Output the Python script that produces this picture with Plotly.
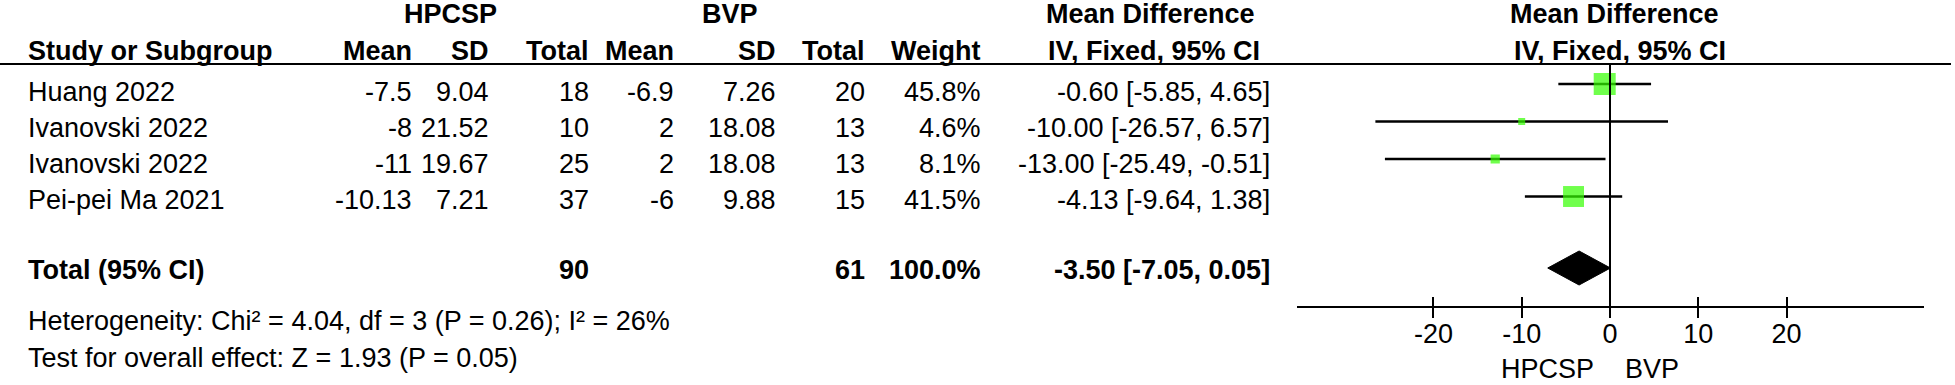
import plotly.graph_objects as go
import math

# ---------------- data ----------------
studies = ["Huang 2022", "Ivanovski 2022", "Ivanovski 2022", "Pei-pei Ma 2021"]
hp_mean = [-7.5, -8, -11, -10.13]
hp_sd = [9.04, 21.52, 19.67, 7.21]
hp_n = [18, 10, 25, 37]
bv_mean = [-6.9, 2, 2, -6]
bv_sd = [7.26, 18.08, 18.08, 9.88]
bv_n = [20, 13, 13, 15]
weights = [45.8, 4.6, 8.1, 41.5]
md = [-0.60, -10.00, -13.00, -4.13]
ci_lo = [-5.85, -26.57, -25.49, -9.64]
ci_hi = [4.65, 6.57, -0.51, 1.38]

total_label = "Total (95% CI)"
total_hp_n = 90
total_bv_n = 61
total_weight = 100.0
total_md = -3.50
total_lo = -7.05
total_hi = 0.05

het_text = "Heterogeneity: Chi² = 4.04, df = 3 (P = 0.26); I² = 26%"
test_text = "Test for overall effect: Z = 1.93 (P = 0.05)"

tick_vals = [-20, -10, 0, 10, 20]
tick_text = ["-20", "-10", "0", "10", "20"]
favours_left = "HPCSP"
favours_right = "BVP"

# ---------------- layout helpers ----------------
W, H = 1955, 385
FONT = "Liberation Sans, Arial, Helvetica, sans-serif"
FS = 27

def px(x):
    return x / W

row_text_y = [92 + i * 36 for i in range(len(studies))]
row_mark_y = [84 + i * 37.5 for i in range(len(studies))]
total_text_y = 270
total_mark_y = 268
het_y = 321
test_y = 358
axis_y = 307
header1_y = 14
header2_y = 51
rule_y = 64

annotations = []

def txt(s, x, y, anchor="right", bold=False):
    annotations.append(dict(
        text=f"<b>{s}</b>" if bold else s,
        x=px(x), xref="paper", y=y, yref="y",
        xanchor=anchor, yanchor="middle", showarrow=False,
        font=dict(family=FONT, size=FS, color="black"),
    ))

# column right edges
C_HPM, C_HPSD, C_HPN = 414, 491, 591
C_BVM, C_BVSD, C_BVN = 676, 778, 867
C_W, C_CI = 983, 1272
C_CIC = 1150
PLOT_C = 1614
LEFT = 26

# headers
txt("HPCSP", 450, header1_y, "center", True)
txt("BVP", 730, header1_y, "center", True)
txt("Mean Difference", C_CIC, header1_y, "center", True)
txt("Mean Difference", PLOT_C, header1_y, "center", True)
txt("Study or Subgroup", LEFT, header2_y, "left", True)
txt("Mean", C_HPM, header2_y, "right", True)
txt("SD", C_HPSD, header2_y, "right", True)
txt("Total", C_HPN, header2_y, "right", True)
txt("Mean", C_BVM, header2_y, "right", True)
txt("SD", C_BVSD, header2_y, "right", True)
txt("Total", C_BVN, header2_y, "right", True)
txt("Weight", C_W, header2_y, "right", True)
txt("IV, Fixed, 95% CI", C_CIC + 4, header2_y, "center", True)
txt("IV, Fixed, 95% CI", PLOT_C + 6, header2_y, "center", True)

# study rows
for i, s in enumerate(studies):
    y = row_text_y[i]
    txt(s, LEFT, y, "left")
    txt(f"{hp_mean[i]:g}", C_HPM, y)
    txt(f"{hp_sd[i]:g}", C_HPSD, y)
    txt(f"{hp_n[i]}", C_HPN, y)
    txt(f"{bv_mean[i]:g}", C_BVM, y)
    txt(f"{bv_sd[i]:g}", C_BVSD, y)
    txt(f"{bv_n[i]}", C_BVN, y)
    txt(f"{weights[i]:.1f}%", C_W, y)
    txt(f"{md[i]:.2f} [{ci_lo[i]:.2f}, {ci_hi[i]:.2f}]", C_CI, y)

# total row
txt(total_label, LEFT, total_text_y, "left", True)
txt(f"{total_hp_n}", C_HPN, total_text_y, "right", True)
txt(f"{total_bv_n}", C_BVN, total_text_y, "right", True)
txt(f"{total_weight:.1f}%", C_W, total_text_y, "right", True)
txt(f"{total_md:.2f} [{total_lo:.2f}, {total_hi:.2f}]", C_CI, total_text_y, "right", True)

txt(het_text, LEFT, het_y, "left")
txt(test_text, LEFT, test_y, "left")

# favours labels
txt(favours_left, 1596, 369, "right")
txt(favours_right, 1623, 369, "left")

# ---------------- figure ----------------
fig = go.Figure()

sizes = [3.25 * math.sqrt(w) for w in weights]
fig.add_trace(go.Scatter(
    x=md, y=row_mark_y, mode="markers",
    marker=dict(symbol="square", size=sizes, color="#33ff00", line=dict(width=0)),
    error_x=dict(type="data", symmetric=False,
                 array=[h - m for h, m in zip(ci_hi, md)],
                 arrayminus=[m - l for m, l in zip(md, ci_lo)],
                 width=0, thickness=2.5, color="black"),
    showlegend=False, hoverinfo="skip",
))

# pooled diamond
fig.add_trace(go.Scatter(
    x=[total_lo, total_md, total_hi, total_md, total_lo],
    y=[total_mark_y, total_mark_y - 17, total_mark_y, total_mark_y + 17, total_mark_y],
    mode="lines", fill="toself", fillcolor="black",
    line=dict(color="black", width=1),
    showlegend=False, hoverinfo="skip",
))

x0px, x1px = 1296.5, 1923.5
zero_px = 1610
ppu = 8.83
rng = [(x0px - zero_px) / ppu, (x1px - zero_px) / ppu]

shapes = [
    dict(type="line", xref="paper", yref="y", x0=0, x1=px(1951),
         y0=rule_y, y1=rule_y, line=dict(color="black", width=2)),
    dict(type="line", xref="x", yref="y", x0=0, x1=0,
         y0=rule_y, y1=axis_y, line=dict(color="black", width=2)),
]

fig.update_layout(
    width=W, height=H,
    margin=dict(l=0, r=0, t=0, b=0, autoexpand=False),
    paper_bgcolor="white", plot_bgcolor="rgba(0,0,0,0)",
    font=dict(family=FONT, size=FS, color="black"),
    xaxis=dict(
        domain=[px(x0px), px(x1px)], range=rng,
        anchor="free", position=1 - axis_y / H,
        showline=True, linecolor="black", linewidth=2,
        ticks="outside", ticklen=10, tickwidth=2, tickcolor="black",
        tickvals=tick_vals, ticktext=tick_text,
        tickfont=dict(family=FONT, size=FS, color="black"),
        ticklabelstandoff=-7,
        showgrid=False, zeroline=False, fixedrange=True,
    ),
    xaxis2=dict(
        domain=[px(x0px), px(x1px)], range=rng, overlaying="x",
        anchor="free", position=1 - axis_y / H,
        showline=False, ticks="inside", ticklen=10, tickwidth=2, tickcolor="black",
        tickvals=tick_vals, showticklabels=False,
        showgrid=False, zeroline=False, fixedrange=True,
    ),
    yaxis=dict(domain=[0, 1], range=[H, 0], visible=False, fixedrange=True),
    shapes=shapes,
    annotations=annotations,
)

# invisible trace so the overlaid tick axis is drawn
fig.add_trace(go.Scatter(x=[0], y=[-100], xaxis="x2", mode="markers",
                         marker=dict(opacity=0), showlegend=False, hoverinfo="skip"))

fig.write_html(
    "out.html",
    config={"displayModeBar": False, "staticPlot": True},
    post_script="document.body.style.margin='0px';document.body.style.overflow='hidden';",
)
